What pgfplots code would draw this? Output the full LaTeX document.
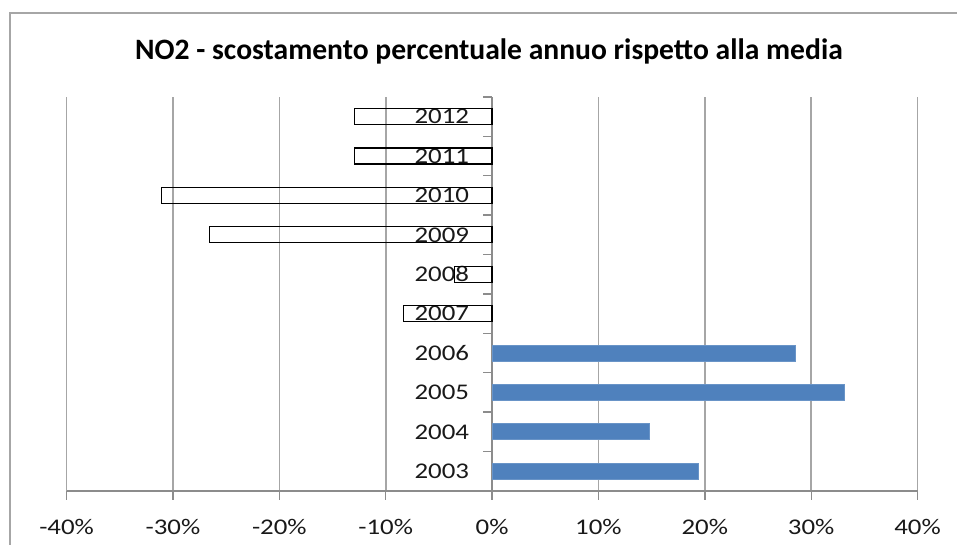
\documentclass[border=0pt]{standalone}
\usepackage{pgfplots}
\pgfplotsset{compat=1.18}
\usepackage{fontspec}
\setmainfont{Carlito}[FakeStretch=1.2]
\newfontfamily\titlefont{Carlito}
\definecolor{barblue}{HTML}{4F81BD}
\definecolor{gridgray}{HTML}{A6A6A6}
\definecolor{axisgray}{HTML}{8C8C8C}
\begin{document}
\begin{tikzpicture}
\path[use as bounding box] (0,0) rectangle (478.5pt,272.5pt);
\draw[gridgray, line width=0.8pt] (5pt,0) -- (5pt,266pt) -- (478.5pt,266pt);
\node[font=\titlefont\fontsize{14.8}{17}\selectfont\bfseries] at (244.5pt,247pt) {NO2 - scostamento percentuale annuo rispetto alla media};
\begin{axis}[
 at={(33.3pt,27pt)}, anchor=south west,
 scale only axis, width=425.5pt, height=197pt,
 xmin=-40, xmax=40, ymin=-0.5, ymax=9.5,
 axis x line=bottom, axis y line=center,
 axis line style={-, axisgray, line width=0.8pt},
 tick align=outside, major tick length=4.3pt,
 tick style={axisgray, line width=0.7pt},
 xtick={-40,-30,...,40},
 xticklabels={-40\%,-30\%,-20\%,-10\%,0\%,10\%,20\%,30\%,40\%},
 xticklabel style={yshift=-6.5pt},
 xmajorgrids, grid style={gridgray, line width=0.8pt},
 ytick={-0.5,0.5,...,9.5},
 yticklabels={},
 extra y ticks={0,1,2,3,4,5,6,7,8,9},
 extra y tick labels={2003,2004,2005,2006,2007,2008,2009,2010,2011,2012},
 extra y tick style={major tick length=0pt, yticklabel style={xshift=-8pt}},
 ticklabel style={font=\fontsize{11.2}{13}\selectfont, text=black!90},
 xbar, bar width=8pt, bar shift=0pt,
]
\addplot[fill=barblue, draw=barblue!85!white, line width=0.4pt] coordinates {(19.4,0) (14.8,1) (33.1,2) (28.5,3)};
\addplot[fill=none, draw=black, line width=0.6pt] coordinates {(-8.3,4) (-3.5,5) (-26.6,6) (-31.1,7) (-12.9,8) (-12.9,9)};
\end{axis}
\end{tikzpicture}
\end{document}
